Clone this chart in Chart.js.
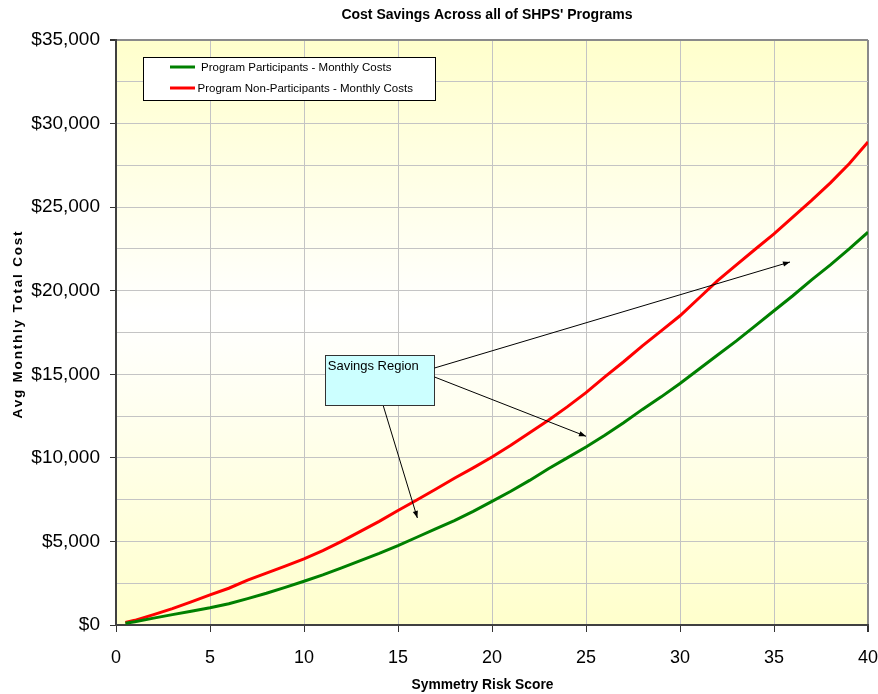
<!DOCTYPE html>
<html>
<head>
<meta charset="utf-8">
<title>Cost Savings Across all of SHPS' Programs</title>
<script src="https://cdn.jsdelivr.net/npm/chart.js@4.4.1/dist/chart.umd.min.js"></script>
<style>
  html, body { margin: 0; padding: 0; background: #ffffff; }
  #wrap { width: 878px; height: 694px; }
</style>
</head>
<body>
<div id="wrap"><canvas id="chart" width="878" height="694"></canvas></div>
<script>
// Symmetry risk score (x) and average monthly total cost per group
const riskScores = [0.5, 1, 2, 3, 4, 5, 6, 7, 8, 9, 10, 11, 12, 13, 14, 15, 16, 17, 18, 19, 20,
  21, 22, 23, 24, 25, 26, 27, 28, 29, 30, 31, 32, 33, 34, 35, 36, 37, 38, 39, 40];
const participantCosts = [100, 190, 410, 620, 820, 1030, 1270, 1580, 1900, 2250, 2620,
  3000, 3420, 3850, 4280, 4750, 5250, 5750, 6250, 6800, 7400,
  8000, 8650, 9350, 10000, 10650, 11350, 12100, 12900, 13650, 14450,
  15300, 16150, 17000, 17900, 18800, 19700, 20650, 21550, 22500, 23500];
const nonParticipantCosts = [150, 280, 620, 980, 1380, 1800, 2200, 2680, 3100, 3520, 3950,
  4450, 5000, 5600, 6200, 6850, 7480, 8120, 8780, 9400, 10050,
  10750, 11500, 12250, 13050, 13900, 14850, 15750, 16700, 17600, 18500,
  19550, 20600, 21550, 22480, 23400, 24400, 25400, 26450, 27600, 28900];

const seriesNames = ['Program Participants - Monthly Costs', 'Program Non-Participants - Monthly Costs'];
const chartTitle = "Cost Savings Across all of SHPS' Programs";
const xAxisTitle = 'Symmetry Risk Score';
const yAxisTitle = 'Avg Monthly Total Cost';
const calloutText = 'Savings Region';

const FONT = "'Liberation Sans', Arial, Helvetica, sans-serif";

function toPoints(xs, ys) { return xs.map((x, i) => ({ x: x, y: ys[i] })); }

// Callout box and its arrows, placed in data units (score, dollars)
const callout = {
  box: { x0: 11.13, y0: 16154, x1: 16.94, y1: 13163 },
  arrows: [
    { from: [16.94, 15376], to: [35.85, 21718] },
    { from: [16.94, 14838], to: [25.0, 11290] },
    { from: [14.22, 13103], to: [16.03, 6402] }
  ]
};

const backgroundPlugin = {
  id: 'plotBackground',
  beforeDraw(chart) {
    const { ctx, chartArea: a } = chart;
    ctx.save();
    ctx.fillStyle = '#ffffff';
    ctx.fillRect(0, 0, chart.width, chart.height);
    const g = ctx.createLinearGradient(0, a.top, 0, a.bottom);
    g.addColorStop(0, '#FFFFCC');
    g.addColorStop(0.47, '#FFFFFF');
    g.addColorStop(1, '#FFFFCC');
    ctx.fillStyle = g;
    ctx.fillRect(a.left, a.top, a.right - a.left, a.bottom - a.top);
    ctx.restore();
  }
};

function drawArrow(ctx, x0, y0, x1, y1) {
  ctx.beginPath();
  ctx.moveTo(x0, y0);
  ctx.lineTo(x1, y1);
  ctx.stroke();
  const ang = Math.atan2(y1 - y0, x1 - x0);
  const len = 7, half = 2.6;
  ctx.beginPath();
  ctx.moveTo(x1, y1);
  ctx.lineTo(x1 - len * Math.cos(ang) + half * Math.sin(ang), y1 - len * Math.sin(ang) - half * Math.cos(ang));
  ctx.lineTo(x1 - len * Math.cos(ang) - half * Math.sin(ang), y1 - len * Math.sin(ang) + half * Math.cos(ang));
  ctx.closePath();
  ctx.fill();
}

const decorPlugin = {
  id: 'decor',
  afterDraw(chart) {
    const { ctx, chartArea: a, scales } = chart;
    const xs = scales.x, ys = scales.y;
    ctx.save();

    // Chart title
    ctx.fillStyle = '#000';
    ctx.font = 'bold 14px ' + FONT;
    ctx.textAlign = 'center';
    ctx.textBaseline = 'middle';
    ctx.fillText(chartTitle, 487, 15.5);

    // X axis title
    ctx.font = 'bold 13.8px ' + FONT;
    ctx.fillText(xAxisTitle, 482.5, 685.5);

    // Y axis title (rotated, letter-spaced)
    ctx.save();
    ctx.translate(18.5, 324);
    ctx.rotate(-Math.PI / 2);
    ctx.font = 'bold 13.5px ' + FONT;
    try { ctx.letterSpacing = '1.8px'; } catch (e) {}
    ctx.fillText(yAxisTitle, 0, 0);
    ctx.restore();

    // Legend box
    const lx = a.left + 27, ly = a.top + 17, lw = 292, lh = 43;
    ctx.fillStyle = '#ffffff';
    ctx.fillRect(lx, ly, lw, lh);
    ctx.strokeStyle = '#000';
    ctx.lineWidth = 1;
    ctx.strokeRect(lx + 0.5, ly + 0.5, lw, lh);
    const rows = [ly + 10, ly + 31];
    const textX = [lx + 58, lx + 54.5];
    ctx.font = '11.5px ' + FONT;
    ctx.textAlign = 'left';
    ctx.textBaseline = 'middle';
    chart.data.datasets.forEach((ds, i) => {
      ctx.strokeStyle = ds.borderColor;
      ctx.lineWidth = 3;
      ctx.beginPath();
      ctx.moveTo(lx + 27, rows[i]);
      ctx.lineTo(lx + 52, rows[i]);
      ctx.stroke();
      ctx.fillStyle = '#000';
      ctx.fillText(ds.label, textX[i], rows[i] + 0.5);
    });

    // Savings Region callout
    const bx0 = xs.getPixelForValue(callout.box.x0), by0 = ys.getPixelForValue(callout.box.y0);
    const bx1 = xs.getPixelForValue(callout.box.x1), by1 = ys.getPixelForValue(callout.box.y1);
    ctx.fillStyle = '#CCFFFF';
    ctx.fillRect(bx0, by0, bx1 - bx0, by1 - by0);
    ctx.strokeStyle = '#333';
    ctx.lineWidth = 1;
    ctx.strokeRect(Math.round(bx0) + 0.5, Math.round(by0) + 0.5, Math.round(bx1 - bx0), Math.round(by1 - by0));
    ctx.fillStyle = '#000';
    ctx.font = '13px ' + FONT;
    ctx.textBaseline = 'alphabetic';
    ctx.fillText(calloutText, bx0 + 2.5, by0 + 15.5);

    ctx.strokeStyle = '#000';
    ctx.fillStyle = '#000';
    ctx.lineWidth = 1;
    callout.arrows.forEach(ar => {
      drawArrow(ctx,
        xs.getPixelForValue(ar.from[0]), ys.getPixelForValue(ar.from[1]),
        xs.getPixelForValue(ar.to[0]), ys.getPixelForValue(ar.to[1]));
    });

    ctx.restore();
  }
};

new Chart(document.getElementById('chart'), {
  type: 'line',
  data: {
    datasets: [
      {
        label: seriesNames[0],
        data: toPoints(riskScores, participantCosts),
        borderColor: '#008000',
        backgroundColor: '#008000',
        borderWidth: 3,
        pointRadius: 0,
        tension: 0,
        fill: false
      },
      {
        label: seriesNames[1],
        data: toPoints(riskScores, nonParticipantCosts),
        borderColor: '#FF0000',
        backgroundColor: '#FF0000',
        borderWidth: 3,
        pointRadius: 0,
        tension: 0,
        fill: false
      }
    ]
  },
  options: {
    responsive: false,
    devicePixelRatio: 1,
    animation: false,
    layout: { padding: { top: 40, right: 10, bottom: 0, left: 0 } },
    plugins: {
      legend: { display: false },
      title: { display: false },
      tooltip: { enabled: false }
    },
    scales: {
      x: {
        type: 'linear',
        min: 0,
        max: 40,
        ticks: {
          stepSize: 5,
          color: '#000',
          font: { family: FONT, size: 18 },
          padding: 15,
          maxRotation: 0
        },
        grid: {
          color: c => (c.tick && c.tick.value === 40) ? '#8a8a8a' : '#c4c4c4',
          lineWidth: c => (c.tick && c.tick.value === 40) ? 2 : 1,
          tickColor: '#333',
          tickLength: 7,
          drawTicks: true
        },
        border: { display: true, color: '#404040', width: 2 },
        afterFit(scale) {
          scale.height = 69;
          scale.paddingLeft = 0;
          scale.paddingRight = 0;
        }
      },
      y: {
        min: 0,
        max: 35000,
        ticks: {
          stepSize: 2500,
          color: '#000',
          font: { family: FONT, size: 19 },
          padding: 10,
          callback: v => (v % 5000 === 0) ? '$' + v.toLocaleString('en-US') : ''
        },
        grid: {
          color: c => (c.tick && c.tick.value === 35000) ? '#8a8a8a' : '#c4c4c4',
          lineWidth: c => (c.tick && c.tick.value === 35000) ? 2 : 1,
          tickColor: c => (c.tick && c.tick.value % 5000 === 0) ? '#333' : 'rgba(0,0,0,0)',
          tickLength: 6,
          drawTicks: true
        },
        border: { display: true, color: '#404040', width: 2 },
        afterFit(scale) {
          scale.width = 116;
          scale.paddingTop = 0;
          scale.paddingBottom = 0;
        }
      }
    }
  },
  plugins: [backgroundPlugin, decorPlugin]
});
</script>
</body>
</html>
